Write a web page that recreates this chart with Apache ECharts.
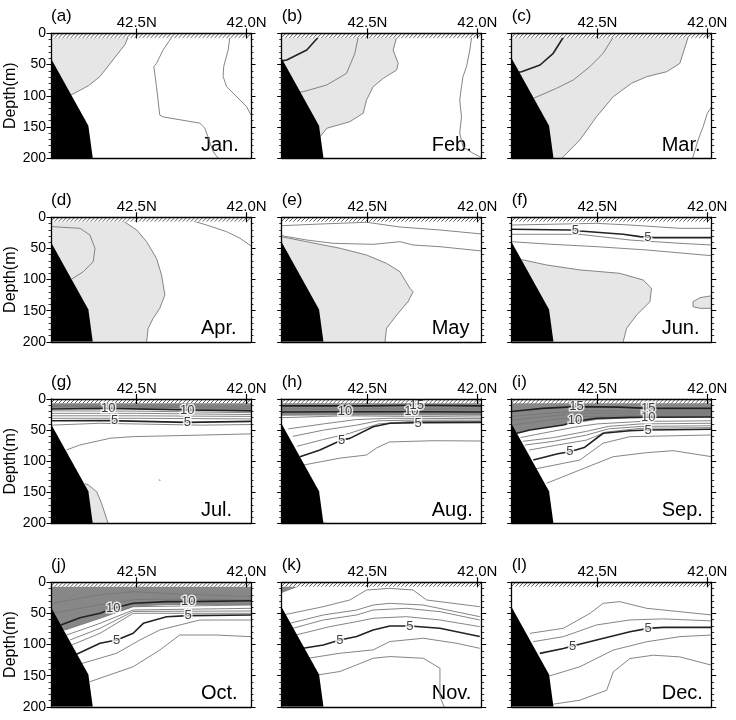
<!DOCTYPE html>
<html><head><meta charset="utf-8">
<script src="https://cdn.jsdelivr.net/npm/echarts@6.0.0/dist/echarts.min.js"></script>
<style>html,body{margin:0;padding:0;background:#fff}#c{width:736px;height:720px}</style>
</head><body><div id="c"></div><script>
// ---------- data ----------
const monthNames = ['Jan.','Feb.','Mar.','Apr.','May','Jun.','Jul.','Aug.','Sep.','Oct.','Nov.','Dec.'];
const panelLetters = ['(a)','(b)','(c)','(d)','(e)','(f)','(g)','(h)','(i)','(j)','(k)','(l)'];
const latRange = [41.98, 42.89];
const depthRange = [0, 200];
const latTicks = [42.5, 42.0];
const depthInterval = 50;
const surfaceLayerDepth = 7;
const bottomProfile = [[42.89,40],[42.72,148],[42.70,200],[42.89,200]];

// Jan
const coldJan = [[[42.89,6],[42.539,6],[42.554,18],[42.667,69],[42.72,84],[42.80,99],[42.89,99]]];
const warmJan = [];
const isoJan = [
 [2, [[42.539,6],[42.554,18],[42.667,69],[42.72,84],[42.80,99]]],
 [3, [[42.341,6],[42.38,26.5],[42.41,48],[42.422,53],[42.41,85.5],[42.395,131],[42.38,134],[42.213,144],[42.19,152],[42.152,190],[42.13,200]]],
 [4, [[42.076,6],[42.084,26.5],[42.104,53],[42.107,69],[42.091,85.5],[42.061,96],[42.0,117.6],[41.98,131]]]
];
const labelsJan = [];
// Feb
const coldFeb = [[[42.89,6],[42.367,6],[42.383,26.5],[42.36,48],[42.367,58.6],[42.428,72],[42.474,85.5],[42.504,106.8],[42.519,128],[42.58,141.7],[42.685,152.3],[42.716,166],[42.89,166]]];
const warmFeb = [];
const isoFeb = [
 [0, [[42.724,6],[42.776,26.5],[42.867,42.6],[42.89,44]]],
 [1, [[42.542,6],[42.557,31.8],[42.595,64],[42.685,82.7],[42.792,93.5],[42.81,94]]],
 [2, [[42.367,6],[42.383,26.5],[42.36,48],[42.367,58.6],[42.428,72],[42.474,85.5],[42.504,106.8],[42.519,128],[42.58,141.7],[42.685,152.3],[42.716,166]]],
 [3, [[42.026,6],[42.034,26.5],[42.049,53],[42.065,69],[42.072,85.5],[42.08,107],[42.072,134],[42.08,160],[42.065,182],[42.019,192.5],[41.989,198],[41.98,199]]]
];
const labelsFeb = [];
// Mar
const coldMar = [[[42.89,6],[42.087,6],[42.125,48],[42.185,61.4],[42.276,69.4],[42.345,80],[42.428,101.5],[42.504,133.7],[42.58,171],[42.655,198],[42.66,200],[42.89,200]]];
const warmMar = [];
const isoMar = [
 [0, [[42.655,6],[42.701,31.8],[42.761,50.6],[42.845,61.4],[42.86,62]]],
 [1, [[42.428,6],[42.474,31.8],[42.534,53.3],[42.61,74.7],[42.686,88],[42.79,104]]],
 [2, [[42.087,6],[42.125,48],[42.185,61.4],[42.276,69.4],[42.345,80],[42.428,101.5],[42.504,133.7],[42.58,171],[42.655,198],[42.66,200]]],
 [3, [[41.98,117.6],[42.0,128.2],[42.019,149.7],[42.042,171],[42.065,198],[42.067,200]]]
];
const labelsMar = [];
// Apr
const coldApr = [[[42.89,6],[42.561,6],[42.5,20.4],[42.455,39.2],[42.41,66],[42.387,92.7],[42.372,124.8],[42.395,146.2],[42.425,162.2],[42.448,178.3],[42.455,200],[42.89,200]]];
const warmApr = [];
const isoApr = [
 [1, [[42.89,15],[42.758,17.7],[42.713,28.4],[42.69,49.8],[42.698,71.3],[42.743,87.4],[42.795,99]]],
 [2, [[42.561,6],[42.5,20.4],[42.455,39.2],[42.41,66],[42.387,92.7],[42.372,124.8],[42.395,146.2],[42.425,162.2],[42.448,178.3],[42.455,200]]],
 [3, [[42.243,6],[42.182,12.4],[42.091,23.1],[42.03,33.7],[41.98,46]]]
];
const labelsApr = [];
// May
const coldMay = [[[42.89,31.3],[42.776,39.2],[42.624,49.8],[42.504,60.6],[42.413,74],[42.352,87.4],[42.307,114],[42.292,119.5],[42.315,135.5],[42.367,157],[42.413,178.3],[42.42,200],[42.89,200]]];
const warmMay = [];
const isoMay = [
 [2, [[42.89,31.3],[42.776,39.2],[42.624,49.8],[42.504,60.6],[42.413,74],[42.352,87.4],[42.307,114],[42.292,119.5],[42.315,135.5],[42.367,157],[42.413,178.3],[42.42,200]]],
 [3, [[42.89,29.6],[42.776,36.5],[42.655,41.8],[42.474,43.4],[42.352,39.2],[42.292,44.5],[42.17,47.2],[41.98,54.1]]],
 [4, [[42.89,13.5],[42.716,10.8],[42.504,8],[42.352,15.6],[42.17,20.4],[41.98,26.8]]]
];
const labelsMay = [];
// Jun
const coldJun = [
 [[42.845,68],[42.837,68.6],[42.731,76.6],[42.58,84.5],[42.398,90],[42.292,100.7],[42.254,114],[42.261,135.6],[42.322,157],[42.367,178.3],[42.383,200],[42.89,200],[42.89,68]],
 [[42.065,135.6],[42.034,129.2],[41.98,126],[41.98,146.2],[42.034,146.2],[42.065,143.6]]
];
const warmJun = [];
const isoJun = [
 [2, [[42.845,68],[42.837,68.6],[42.731,76.6],[42.58,84.5],[42.398,90],[42.292,100.7],[42.254,114],[42.261,135.6],[42.322,157],[42.367,178.3],[42.383,200]]],
 [2, [[41.98,126],[42.034,129.2],[42.065,135.6],[42.065,143.6],[42.034,146.2],[41.98,146.2]]],
 [3, [[42.89,39.2],[42.731,42.9],[42.504,47.2],[42.276,52.5],[41.98,61.7]]],
 [4, [[42.89,27.3],[42.58,27.3],[42.352,36.5],[42.125,41.8],[41.98,44.5]]],
 [5, [[42.89,19.3],[42.625,20.4],[42.58,22],[42.383,27.3],[42.307,31.1],[42.239,32.7],[41.98,32.7]]],
 [6, [[42.89,12.4],[42.504,9.7],[42.352,12.4],[42.125,17.7],[41.98,17.7]]]
];
const labelsJun = [[42.60,20.6,'5'],[42.27,31.8,'5']];
// Jul
const coldJul = [[[42.735,136],[42.72,138],[42.682,149],[42.66,167.5],[42.63,200],[42.89,200],[42.89,136]]];
const warmJul = [[[42.89,6],[41.98,6],[41.98,19],[42.27,17.7],[42.63,15],[42.89,16]]];
const isoJul = [
 [2, [[42.735,136],[42.72,138],[42.682,149],[42.66,167.5],[42.63,200]]],
 [2, [[42.40,130],[42.392,130.6]]],
 [3, [[42.82,82],[42.76,74],[42.62,63],[42.52,60.5],[42.21,58],[41.98,56]]],
 [4, [[42.89,42],[42.67,39],[42.21,42],[41.98,41]]],
 [5, [[42.89,35],[42.63,34.8],[42.27,37.5],[41.98,36]]],
 [6, [[42.89,31],[42.5,31],[41.98,32]]],
 [7, [[42.89,27],[42.5,27],[41.98,28]]],
 [8, [[42.89,23],[42.5,23],[41.98,25]]],
 [9, [[42.89,19],[42.5,19.5],[41.98,22]]],
 [10, [[42.89,16],[42.63,15],[42.27,17.7],[41.98,19]]],
 [11, [[42.89,12],[42.5,13],[41.98,15]]],
 [12, [[42.89,9.5],[42.5,10.5],[41.98,12]]]
];
const labelsJul = [[42.63,15,'10'],[42.27,17.7,'10'],[42.60,34.8,'5'],[42.27,37.5,'5']];
// Aug
const coldAug = [[[42.70,196],[42.66,200],[42.70,200]]];
const warmAug = [[[42.89,6],[41.98,6],[41.98,27],[42.5,26],[42.89,27]]];
const isoAug = [
 [15, [[42.89,11],[42.5,11],[42.276,10],[41.98,11]]],
 [12, [[42.89,16],[42.5,16],[41.98,16]]],
 [10, [[42.89,21],[42.602,20.4],[42.30,20.4],[41.98,21]]],
 [9, [[42.89,30],[42.6,27],[42.3,28],[41.98,29]]],
 [8, [[42.86,48],[42.7,40],[42.55,33],[42.4,31],[41.98,31.5]]],
 [7, [[42.84,60],[42.7,50],[42.55,42],[42.45,35],[42.3,34],[41.98,34]]],
 [6, [[42.82,76],[42.7,65],[42.58,55],[42.45,40],[42.3,36],[41.98,36]]],
 [5, [[42.807,92.6],[42.716,81.9],[42.617,65.9],[42.58,63.2],[42.474,44.5],[42.398,39],[42.269,38],[41.98,37.5]]],
 [4, [[42.79,106],[42.625,95],[42.504,90],[42.46,79],[42.40,69],[42.2,67],[41.98,67.5]]]
];
const labelsAug = [[42.602,20.4,'10'],[42.30,20.4,'10'],[42.276,10,'15'],[42.269,38.5,'5'],[42.617,65.9,'5']];
// Sep
const coldSep = [];
const warmSep = [[[42.89,6],[41.98,6],[41.98,29.4],[42.352,31],[42.504,33.7],[42.655,41.8],[42.807,49.8],[42.866,55],[42.89,55]]];
const isoSep = [
 [15, [[42.89,20],[42.75,15],[42.595,12.3],[42.4,13],[42.269,15],[41.98,15]]],
 [13, [[42.89,28],[42.7,22],[42.55,19],[42.3,20],[41.98,20]]],
 [12, [[42.89,34],[42.7,27],[42.55,23],[42.3,23],[41.98,23]]],
 [11, [[42.89,42],[42.7,33],[42.55,28],[42.3,26],[41.98,26]]],
 [10, [[42.866,55],[42.807,49.8],[42.655,41.8],[42.602,36],[42.504,31],[42.352,29.5],[42.269,29.4],[41.98,29]]],
 [9, [[42.85,62],[42.75,55],[42.6,45],[42.5,40],[42.3,36],[41.98,35]]],
 [8, [[42.84,68],[42.7,62],[42.55,52],[42.45,44],[42.3,40],[41.98,39]]],
 [7, [[42.83,74],[42.7,68],[42.55,58],[42.45,48],[42.3,44],[41.98,43]]],
 [6, [[42.81,82],[42.7,75],[42.55,66],[42.46,53],[42.3,47],[41.98,46]]],
 [5, [[42.792,98],[42.68,88],[42.625,84.6],[42.56,78],[42.474,55],[42.352,50.9],[42.269,49.8],[41.98,48.7]]],
 [4, [[42.807,114],[42.58,98],[42.474,71],[42.352,60.5],[41.98,57.8]]],
 [3, [[42.731,135.4],[42.58,114],[42.428,92.7],[42.276,86.2],[42.155,83],[41.98,92.7]]]
];
const labelsSep = [[42.595,12.3,'15'],[42.269,15,'15'],[42.602,33.7,'10'],[42.269,29.4,'10'],[42.625,84.6,'5'],[42.269,49.8,'5']];
// Oct
const coldOct = [];
const warmOct = [[[42.89,6],[41.98,6],[41.98,36.5],[42.364,36.5],[42.516,39.2],[42.667,57.8],[42.826,76.6],[42.832,77],[42.89,77]]];
const isoOct = [
 [14, [[42.89,34],[42.667,20],[42.515,15],[42.364,18],[41.98,23]]],
 [12, [[42.89,50],[42.667,36],[42.515,28],[42.364,27],[41.98,28]]],
 [10, [[42.845,68.6],[42.758,57],[42.667,49.8],[42.607,41.8],[42.516,33.7],[42.364,31.1],[42.266,31.1],[41.98,29.6]]],
 [9, [[42.826,76.6],[42.667,57.8],[42.516,39.2],[41.98,36.5]]],
 [8, [[42.819,84.7],[42.667,65.9],[42.516,44.5],[41.98,41.8]]],
 [7, [[42.804,92.7],[42.667,73.9],[42.516,46.8],[41.98,46.1]]],
 [6, [[42.796,100.7],[42.667,81.9],[42.516,49.8],[41.98,49.8]]],
 [5, [[42.781,116.8],[42.667,98],[42.591,92.7],[42.516,81.9],[42.47,65.9],[42.364,55.3],[42.266,53.6],[41.98,52.5]]],
 [4, [[42.773,132.9],[42.591,114],[42.486,92.7],[42.395,76.6],[42.213,60.6],[41.98,60.6]]],
 [3, [[42.713,159.7],[42.516,135.6],[42.395,108.8],[42.304,84.7],[42.137,84.7],[41.98,87.4]]]
];
const labelsOct = [[42.607,41.8,'10'],[42.266,31.1,'10'],[42.591,92.7,'5'],[42.266,53.6,'5']];
// Nov
const coldNov = [];
const warmNov = [[[42.89,6],[42.807,6],[42.89,17]]];
const isoNov = [
 [9, [[42.883,52.5],[42.701,39.2],[42.58,28.4],[42.504,12.4],[42.398,9.7],[42.292,12.4],[42.231,28.4],[41.989,39.2]]],
 [8, [[42.853,65.9],[42.701,52.5],[42.549,44.5],[42.474,36.5],[42.398,33.8],[42.246,36.5],[41.989,55.2]]],
 [7, [[42.838,73.8],[42.701,60.5],[42.549,52.5],[42.474,44.5],[42.322,41.8],[42.17,47.2],[41.989,60.5]]],
 [6, [[42.823,84.5],[42.671,71.2],[42.549,63.2],[42.474,57.8],[42.322,55.2],[42.17,60.5],[41.989,71.2]]],
 [5, [[42.792,106],[42.701,100.6],[42.625,92.6],[42.549,87.2],[42.474,76.5],[42.398,70.1],[42.307,70.1],[42.17,73.8],[41.989,87.2]]],
 [4, [[42.769,122],[42.625,114],[42.474,108.6],[42.398,95.2],[42.246,89.9],[42.095,97.9],[41.989,106]]],
 [3, [[42.724,148.7],[42.625,143.3],[42.549,132.7],[42.474,122],[42.398,119.3],[42.246,122],[42.17,138],[42.17,183.5],[42.155,196.9],[42.15,200]]]
];
const labelsNov = [[42.625,92.6,'5'],[42.307,70.1,'5']];
// Dec
const coldDec = [];
const warmDec = [];
const isoDec = [
 [7, [[42.807,82],[42.655,73.9],[42.534,49.9],[42.474,33.8],[42.398,31.1],[42.276,41.8],[42.125,47.2],[41.98,52.5]]],
 [6, [[42.792,95.4],[42.655,87.3],[42.504,68.5],[42.352,60.5],[42.201,58.8],[41.98,62]]],
 [5, [[42.762,114.2],[42.655,106.2],[42.613,102.4],[42.504,92.8],[42.352,79.4],[42.269,74],[42.201,72.4],[41.98,72.4]]],
 [4, [[42.731,151.8],[42.58,135.7],[42.428,108.9],[42.276,95.5],[42.125,87.3],[41.98,84.7]]],
 [3, [[42.701,195.8],[42.58,189.4],[42.458,173.4],[42.428,143.9],[42.352,122.5],[42.246,117.1],[42.125,119.8],[41.98,133.2]]]
];
const labelsDec = [[42.613,102.4,'5'],[42.269,74,'5']];

const panels = [
 {cold:coldJan, warm:warmJan, iso:isoJan, labels:labelsJan},
 {cold:coldFeb, warm:warmFeb, iso:isoFeb, labels:labelsFeb},
 {cold:coldMar, warm:warmMar, iso:isoMar, labels:labelsMar},
 {cold:coldApr, warm:warmApr, iso:isoApr, labels:labelsApr},
 {cold:coldMay, warm:warmMay, iso:isoMay, labels:labelsMay},
 {cold:coldJun, warm:warmJun, iso:isoJun, labels:labelsJun},
 {cold:coldJul, warm:warmJul, iso:isoJul, labels:labelsJul},
 {cold:coldAug, warm:warmAug, iso:isoAug, labels:labelsAug},
 {cold:coldSep, warm:warmSep, iso:isoSep, labels:labelsSep},
 {cold:coldOct, warm:warmOct, iso:isoOct, labels:labelsOct},
 {cold:coldNov, warm:warmNov, iso:isoNov, labels:labelsNov},
 {cold:coldDec, warm:warmDec, iso:isoDec, labels:labelsDec}
];

// ---------- layout & style ----------
const colLeft = [51, 281.7, 511.7];
const rowTop = [33.5, 217.3, 399, 582.3];
const plotW = 200, plotH = 124.5;
const FONT = '"Liberation Sans", Arial, Helvetica, sans-serif';
const COLD = '#e6e6e6', WARM = '#878787';

const grids = [], xAxes = [], yAxes = [], series = [], graphics = [];

function polySeries(i, polys, color, z) {
  return {
    type: 'custom', xAxisIndex: i*3, yAxisIndex: i*2, clip: true, silent: true, z: z, animation: false,
    data: polys.map(p => p[0]),
    renderItem: (params, api) => ({
      type: 'polygon',
      shape: { points: polys[params.dataIndex].map(pt => api.coord(pt)) },
      style: { fill: color, stroke: null }
    })
  };
}

panels.forEach((p, i) => {
  const r = Math.floor(i/3), c = i % 3;
  grids.push({ left: colLeft[c], top: rowTop[r], width: plotW, height: plotH });
  const baseX = { gridIndex: i, type: 'value', min: latRange[0], max: latRange[1], inverse: true, splitLine: {show:false}, z: 10 };
  xAxes.push(Object.assign({}, baseX, {
    position: 'top',
    axisLine: { show: true, onZero: false, lineStyle: { color: '#000', width: 1.3 } },
    axisTick: { show: true, customValues: latTicks, length: 5, lineStyle: { color: '#000', width: 1.2 } },
    axisLabel: { show: true, customValues: latTicks, formatter: v => v.toFixed(1) + 'N', fontSize: 15, color: '#000', fontFamily: FONT, margin: 3 }
  }));
  xAxes.push(Object.assign({}, baseX, {
    position: 'top',
    axisLine: { show: false },
    axisTick: { show: true, inside: true, customValues: latTicks, length: 5, lineStyle: { color: '#000', width: 1.2 } },
    axisLabel: { show: false }
  }));
  xAxes.push(Object.assign({}, baseX, {
    position: 'bottom',
    axisLine: { show: true, onZero: false, lineStyle: { color: '#000', width: 1.3 } },
    axisTick: { show: false }, axisLabel: { show: false }
  }));
  const baseY = { gridIndex: i, type: 'value', min: depthRange[0], max: depthRange[1], interval: depthInterval, inverse: true, splitLine: {show:false}, z: 10,
    axisLine: { show: true, onZero: false, lineStyle: { color: '#000', width: 1.3 } },
    axisTick: { show: true, length: 4.5, lineStyle: { color: '#000', width: 1 } },
    minorTick: { show: true, splitNumber: 5, length: 2.5, lineStyle: { color: '#000', width: 0.8 } } };
  yAxes.push(Object.assign({}, baseY, {
    position: 'left',
    axisLabel: { show: c === 0, fontSize: 14, color: '#000', fontFamily: FONT, margin: 5 },
    name: c === 0 ? 'Depth(m)' : '', nameLocation: 'middle', nameRotate: 90, nameGap: 30,
    nameTextStyle: { fontSize: 16, color: '#000', fontFamily: FONT }
  }));
  yAxes.push(Object.assign({}, baseY, { position: 'right', axisLabel: { show: false } }));

  if (p.cold.length) series.push(polySeries(i, p.cold, COLD, 1));
  if (p.warm.length) series.push(polySeries(i, p.warm, WARM, 1));
  p.iso.forEach(([v, pts]) => {
    const bold = v % 5 === 0;
    series.push({
      type: 'line', xAxisIndex: i*3, yAxisIndex: i*2, data: pts, symbol: 'none', silent: true, animation: false, z: 2,
      lineStyle: { color: bold ? '#222' : '#777', width: bold ? 1.6 : 0.9 }
    });
  });
  series.push(polySeries(i, [bottomProfile], '#000', 3));
  series.push({
    type: 'custom', xAxisIndex: i*3, yAxisIndex: i*2, silent: true, animation: false, z: 4,
    data: [[latRange[1], 0]],
    renderItem: (params, api) => {
      const a = api.coord([latRange[1], 0]), b = api.coord([latRange[0], surfaceLayerDepth]);
      const x0 = Math.min(a[0], b[0]), x1 = Math.max(a[0], b[0]), y0 = Math.min(a[1], b[1]), y1 = Math.max(a[1], b[1]);
      const h = y1 - y0, kids = [{ type: 'rect', shape: { x: x0, y: y0, width: x1 - x0, height: h }, style: { fill: '#fff' } }];
      for (let x = x0 - h; x < x1; x += 4) {
        let sx = x, sy = y1, ex = x + h, ey = y0;
        if (sx < x0) { sy = y1 - (x0 - sx); sx = x0; }
        if (ex > x1) { ey = y0 + (ex - x1); ex = x1; }
        kids.push({ type: 'line', shape: { x1: sx, y1: sy, x2: ex, y2: ey }, style: { stroke: '#333', lineWidth: 0.8 } });
      }
      return { type: 'group', children: kids };
    }
  });
  if (p.labels.length) {
    series.push({
      type: 'scatter', xAxisIndex: i*3, yAxisIndex: i*2, silent: true, animation: false, z: 5,
      symbolSize: 1, itemStyle: { color: 'rgba(0,0,0,0)' },
      data: p.labels.map(l => [l[0], l[1], l[2]]),
      label: { show: true, position: 'inside', formatter: q => q.value[2], fontSize: 13, color: '#111', fontFamily: FONT,
        textBorderColor: '#fff', textBorderWidth: 3 }
    });
  }
  graphics.push({ type: 'text', x: colLeft[c], y: rowTop[r] - 17, style: { text: panelLetters[i], font: '17px ' + FONT, fill: '#000', textVerticalAlign: 'middle', textAlign: 'left' } });
  graphics.push({ type: 'text', x: colLeft[c] + 150, y: rowTop[r] + plotH - 13, style: { text: monthNames[i], font: '20px ' + FONT, fill: '#000', textVerticalAlign: 'middle', textAlign: 'left' } });
});

const chart = echarts.init(document.getElementById('c'), null, { renderer: 'canvas' });
chart.setOption({ animation: false, backgroundColor: '#fff', grid: grids, xAxis: xAxes, yAxis: yAxes, series: series, graphic: graphics });
</script></body></html>
